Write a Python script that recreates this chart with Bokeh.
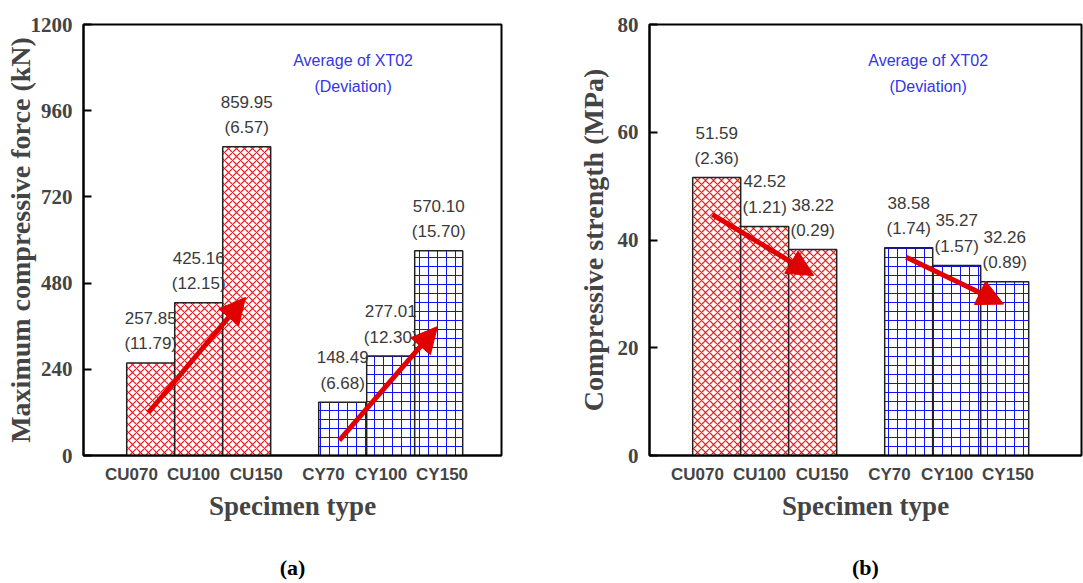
from bokeh.plotting import figure
from bokeh.layouts import row
from bokeh.models import (ColumnDataSource, FixedTicker, Arrow, NormalHead, Label, Range1d,
                          CDSView, GroupFilter, LinearAxis)
from bokeh.core.properties import value
from bokeh.embed import file_html
from bokeh.resources import INLINE

# ---------------- data ----------------
specimens = ["CU070", "CU100", "CU150", "CY70", "CY100", "CY150"]
groups = ["CU", "CU", "CU", "CY", "CY", "CY"]
force_kN = [257.85, 425.16, 859.95, 148.49, 277.01, 570.10]
force_dev = [11.79, 12.15, 6.57, 6.68, 12.30, 15.70]
strength_MPa = [51.59, 42.52, 38.22, 38.58, 35.27, 32.26]
strength_dev = [2.36, 1.21, 0.29, 1.74, 1.57, 0.89]
force_ticks = [0, 240, 480, 720, 960, 1200]
strength_ticks = [0, 20, 40, 60, 80]
# trend arrows (x0, y0, x1, y1) in data units
force_arrows = [(1.354, 119.7, 3.375, 440.0), (5.33, 41.8, 7.375, 359.0)]
strength_arrows = [(1.31, 44.7, 3.42, 33.4), (5.35, 36.8, 7.375, 28.1)]

# ---------------- layout constants ----------------
BAR_X = [1.4 + j + 4.0 * g for g in range(2) for j in range(3)]
TICK_X = [1.0, 2.29, 3.6, 5.0, 6.2, 7.47]
RED = "#ff1010"
BLUE = "#1010ff"
ARROW = "#e00000"
SERIF = "Liberation Serif"
SANS = "Liberation Sans"
STYLE = {"CU": dict(hatch_pattern="x", hatch_color=RED, hatch_scale=8, hatch_weight=1.2),
         "CY": dict(hatch_pattern="+", hatch_color=BLUE, hatch_scale=9, hatch_weight=1.0)}


def panel(vals, devs, yticks, ylabel, caption, arrows, width, border_left, border_right,
          x_end, label_standoff):
    p = figure(width=width, height=583, output_backend="svg", toolbar_location=None,
               x_range=Range1d(0, x_end), y_range=Range1d(yticks[0], yticks[-1]),
               min_border_left=border_left, min_border_right=border_right,
               min_border_top=24, min_border_bottom=128)
    p.xgrid.visible = False
    p.ygrid.visible = False
    p.outline_line_color = "black"
    p.outline_line_width = 2
    p.background_fill_color = "white"
    p.border_fill_color = "white"

    src = ColumnDataSource(dict(
        x=BAR_X, top=vals, g=groups,
        vt=[f"{v:.2f}" for v in vals], dt=[f"({d:.2f})" for d in devs]))
    for grp in ["CU", "CY"]:
        view = CDSView(filter=GroupFilter(column_name="g", group=grp))
        p.vbar(x="x", top="top", bottom=0, width=1.0, source=src, view=view,
               fill_color="white", line_color="#222222", line_width=1.5, **STYLE[grp])

    p.text(x="x", y="top", text="vt", source=src, y_offset=-45,
           text_align="center", text_baseline="middle",
           text_font=value(SANS), text_font_size="17px", text_color="#3a3a3a")
    p.text(x="x", y="top", text="dt", source=src, y_offset=-19,
           text_align="center", text_baseline="middle",
           text_font=value(SANS), text_font_size="17px", text_color="#3a3a3a")

    for (x0, y0, x1, y1) in arrows:
        p.add_layout(Arrow(x_start=x0, y_start=y0, x_end=x1, y_end=y1,
                           line_color=ARROW, line_width=5,
                           end=NormalHead(size=26, fill_color=ARROW, line_color=ARROW)))

    ymax = yticks[-1]
    p.add_layout(Label(x=0.645 * x_end, y=0.917 * ymax, text="Average of XT02",
                       text_align="center", text_baseline="middle",
                       text_font=SANS, text_font_size="16px", text_color="#3535e8"))
    p.add_layout(Label(x=0.645 * x_end, y=0.855 * ymax, text="(Deviation)",
                       text_align="center", text_baseline="middle",
                       text_font=SANS, text_font_size="16px", text_color="#3535e8"))

    ya = p.yaxis[0]
    ya.ticker = FixedTicker(ticks=yticks)
    ya.minor_tick_line_color = None
    ya.major_tick_in = 8
    ya.major_tick_out = 0
    ya.major_tick_line_width = 2
    ya.axis_line_width = 2
    ya.major_label_text_font = SERIF
    ya.major_label_text_font_style = "bold"
    ya.major_label_text_font_size = "21px"
    ya.major_label_standoff = 11
    ya.axis_label = ylabel
    ya.axis_label_text_font = SERIF
    ya.axis_label_text_font_style = "bold"
    ya.axis_label_text_font_size = "28px"
    ya.axis_label_standoff = label_standoff

    xa = p.xaxis[0]
    xa.ticker = FixedTicker(ticks=TICK_X)
    xa.major_label_overrides = {t: s for t, s in zip(TICK_X, specimens)}
    xa.major_tick_line_color = None
    xa.minor_tick_line_color = None
    xa.axis_line_width = 2
    xa.major_label_text_font = SANS
    xa.major_label_text_font_style = "bold"
    xa.major_label_text_font_size = "17px"
    xa.major_label_standoff = 3
    xa.axis_label = "Specimen type"
    xa.axis_label_text_font = SERIF
    xa.axis_label_text_font_style = "bold"
    xa.axis_label_text_font_size = "27px"
    xa.axis_label_standoff = 4

    cap = LinearAxis(ticker=FixedTicker(ticks=[]), axis_line_color=None,
                     major_tick_line_color=None, minor_tick_line_color=None,
                     axis_label=caption, axis_label_standoff=31,
                     axis_label_text_font=SERIF, axis_label_text_font_style="bold",
                     axis_label_text_font_size="22px", axis_label_text_color="black")
    p.add_layout(cap, "below")
    return p


left = panel(force_kN, force_dev, force_ticks, "Maximum compressive force (kN)", "(a)",
             force_arrows, 541, 83, 40, 418 / 48, -8)
right = panel(strength_MPa, strength_dev, strength_ticks, "Compressive strength (MPa)", "(b)",
              strength_arrows, 542, 108, 2, 432 / 48, 6)

layout = row(left, right)
open("out.html", "w").write(file_html(layout, INLINE))
